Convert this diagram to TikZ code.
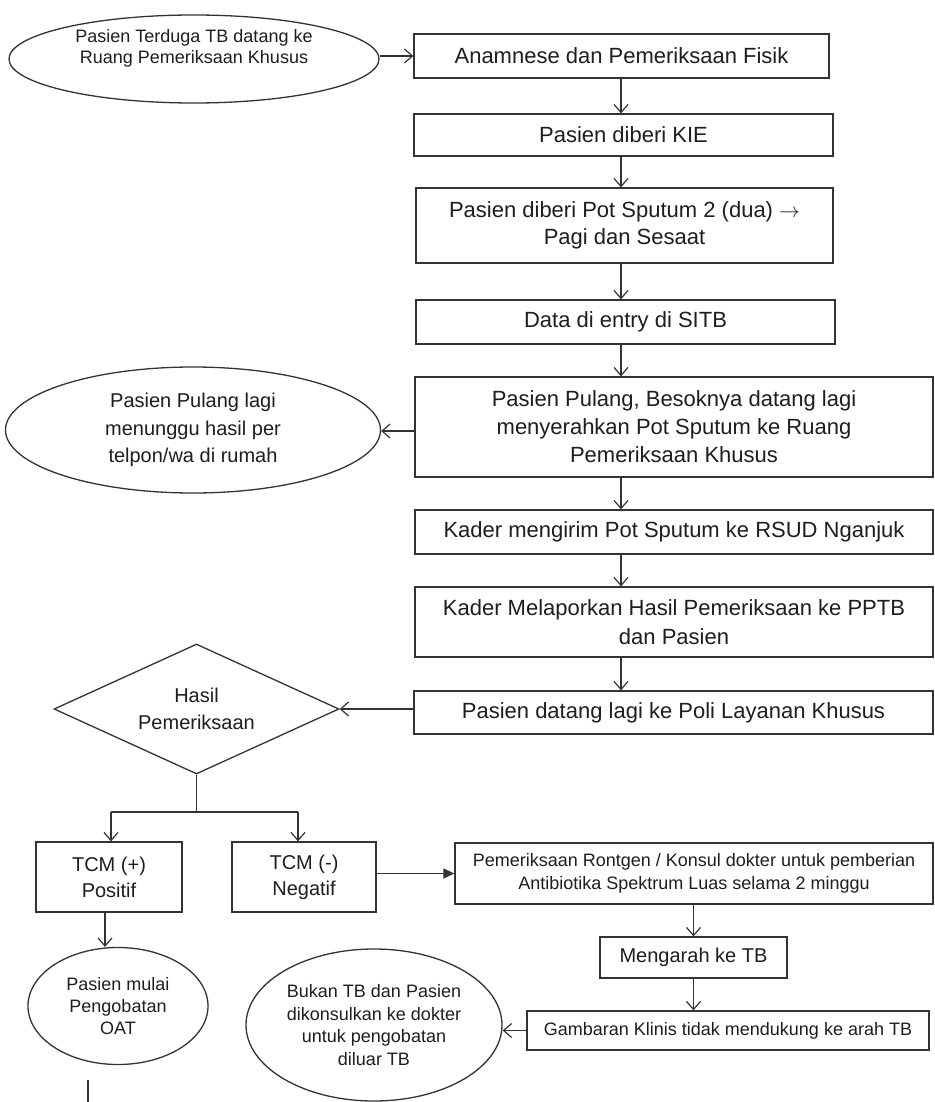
\documentclass[tikz,border=0pt]{standalone}
\usepackage{fontspec}
\setmainfont{Liberation Sans}
\usetikzlibrary{shapes.geometric,arrows.meta}
\newcommand{\fs}[2]{\fontsize{#1}{#2}\selectfont}
\definecolor{linec}{HTML}{333333}
\definecolor{textc}{HTML}{1E1E1E}
\begin{document}
\begin{tikzpicture}[x=1pt,y=-1pt,
  ln/.style={line width=1.2pt, draw=linec},
  box/.style={rectangle, draw=linec, line width=1.3pt, align=center, inner sep=0pt, text=textc},
  ell/.style={ellipse, draw=linec, line width=1.3pt, align=center, inner sep=0pt, text=textc},
  dia/.style={diamond, draw=linec, line width=1.3pt, align=center, inner sep=0pt, aspect=2.2, text=textc},
  arr/.style={line width=1.2pt, draw=linec, -{Straight Barb[length=8pt,width=14pt,line width=1.2pt]}},
  farr/.style={line width=1.2pt, draw=linec, -{Triangle[length=11pt,width=10pt]}}
]
\fill[white] (0,0) rectangle (934,1102);
\useasboundingbox (0,0) rectangle (934,1102);

\coordinate (col) at (621,0);
\coordinate (c105) at (105,0);

% left column ellipses
\node[ell, minimum width=370pt, minimum height=88pt, font=\fs{18}{21}] (e1) at (194,59) {Pasien Terduga TB datang ke\\Ruang Pemeriksaan Khusus\\[4pt]};
\node[ell, minimum width=375pt, minimum height=126pt, font=\fs{20}{27.5}] (e2) at (193,430) {Pasien Pulang lagi\\menunggu hasil per\\telpon/wa di rumah};

% main column
\node[box, minimum width=415pt, minimum height=44pt, font=\fs{22}{28}] (b1) at (621.5,56) {Anamnese dan Pemeriksaan Fisik};
\node[box, minimum width=419pt, minimum height=42pt, font=\fs{22}{28}] (b2) at (623.5,135) {Pasien diberi KIE};
\node[box, minimum width=417pt, minimum height=75pt, font=\fs{22}{27}] (b3) at (624.5,225.5) {Pasien diberi Pot Sputum 2 (dua) $\rightarrow$\\Pagi dan Sesaat};
\node[box, minimum width=419pt, minimum height=44pt, font=\fs{22}{28}] (b4) at (625.5,322) {Data di entry di SITB};
\node[box, minimum width=518pt, minimum height=100pt, font=\fs{22}{28}] (b5) at (674,427) {Pasien Pulang, Besoknya datang lagi\\menyerahkan Pot Sputum ke Ruang\\Pemeriksaan Khusus};
\node[box, minimum width=518pt, minimum height=44pt, font=\fs{22}{28}] (b6) at (674,532) {Kader mengirim Pot Sputum ke RSUD Nganjuk};
\node[box, minimum width=518pt, minimum height=70pt, font=\fs{22}{29}] (b7) at (674,622) {Kader Melaporkan Hasil Pemeriksaan ke PPTB\\dan Pasien};
\node[box, minimum width=519pt, minimum height=43pt, font=\fs{22}{28}] (b8) at (673.5,712.5) {Pasien datang lagi ke Poli Layanan Khusus};

% decision
\node[dia, minimum width=285pt, minimum height=130pt, font=\fs{20}{27}] (d) at (196.5,709) {Hasil\\Pemeriksaan};

% bottom part
\node[box, minimum width=146pt, minimum height=70pt, font=\fs{20}{26}] (tp) at (109,877) {TCM (+)\\Positif};
\node[box, minimum width=144pt, minimum height=70pt, font=\fs{20}{26}] (tn) at (304,877) {TCM (-)\\Negatif};
\node[box, minimum width=478pt, minimum height=61pt, font=\fs{18}{23}] (ro) at (694,873.5) {Pemeriksaan Rontgen / Konsul dokter untuk pemberian\\Antibiotika Spektrum Luas selama 2 minggu};
\node[box, minimum width=187pt, minimum height=41pt, font=\fs{20}{26}] (me) at (693.5,957.5) {Mengarah ke TB};
\node[box, minimum width=402pt, minimum height=39pt, font=\fs{18}{23}] (ga) at (728,1030.5) {Gambaran Klinis tidak mendukung ke arah TB};
\node[ell, minimum width=180pt, minimum height=117pt, font=\fs{18}{22}] (pm) at (118,1006) {Pasien mulai\\Pengobatan\\OAT};
\node[ell, minimum width=256pt, minimum height=152pt, font=\fs{18}{22.5}] (bk) at (374,1025) {Bukan TB dan Pasien\\dikonsulkan ke dokter\\untuk pengobatan\\diluar TB};

% connectors
\draw[arr] (e1.east |- b1.west) -- (b1.west);
\draw[arr] (b1.south -| col) -- (b2.north -| col);
\draw[arr] (b2.south -| col) -- (b3.north -| col);
\draw[arr] (b3.south -| col) -- (b4.north -| col);
\draw[arr] (b4.south -| col) -- (b5.north -| col);
\draw[arr] (b5.west) ++(0,4) coordinate (b5w) (b5w) -- (e2.east |- b5w);
\draw[arr] (b5.south -| col) -- (b6.north -| col);
\draw[arr] (b6.south -| col) -- (b7.north -| col);
\draw[arr] (b7.south -| col) -- (b8.north -| col);
\draw[arr] (b8.west |- d.east) -- (d.east);

\coordinate (sp) at (196.5,812);
\coordinate (sl) at (111,812);
\coordinate (sr) at (298,812);
\draw[ln] (d.south) -- (sp);
\draw[ln] (sl) -- (sr);
\draw[arr] (sl) -- (tp.north -| sl);
\draw[arr] (sr) -- (tn.north -| sr);

\draw[farr] (tn.east |- ro.west) -- (ro.west);
\draw[arr] (ro.south -| me.north) -- (me.north);
\draw[arr] (me.south) -- (me.south |- ga.north);
\draw[arr] (ga.west) -- (ga.west -| bk.east);
\draw[arr] (tp.south -| c105) -- (pm.north -| c105);

\coordinate (s1) at (88,1080);
\coordinate (s2) at (88,1102);
\draw[ln] (s1) -- (s2);
\end{tikzpicture}
\end{document}
